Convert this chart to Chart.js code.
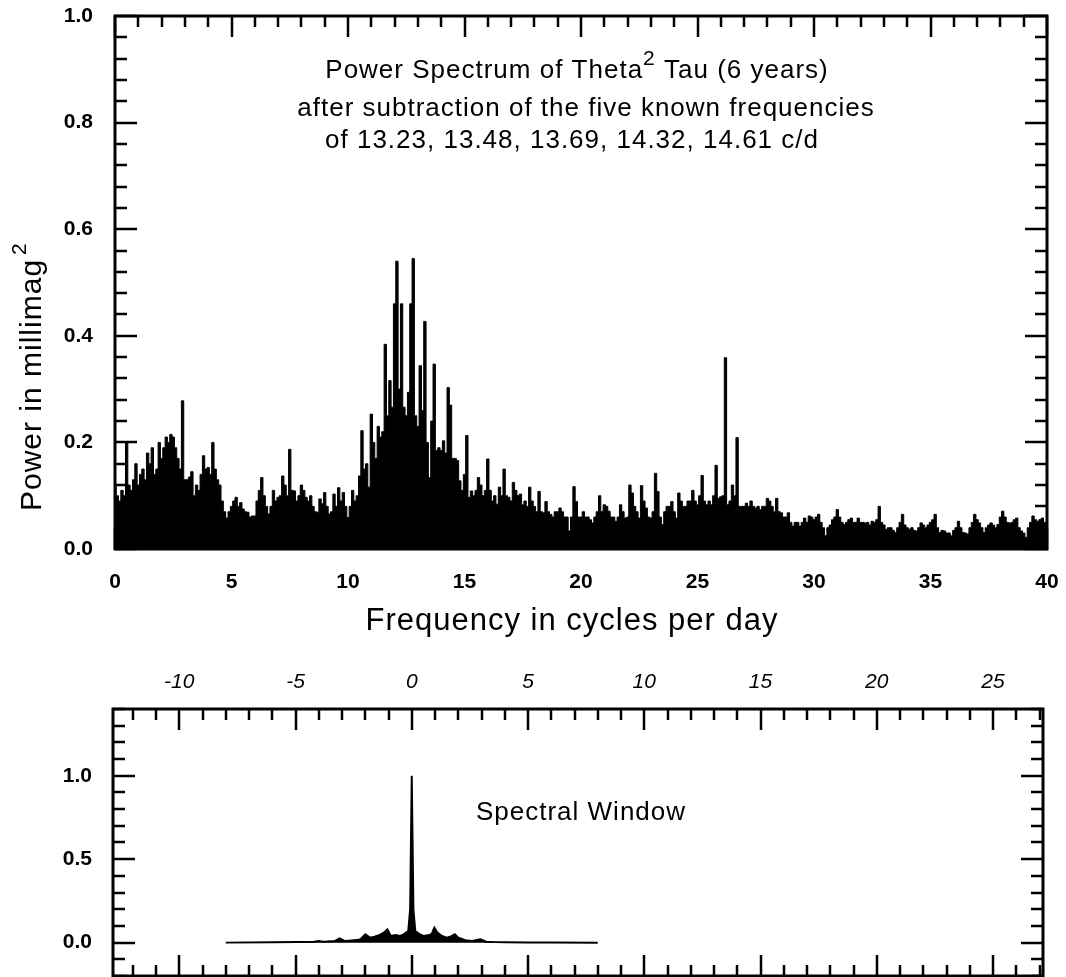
<!DOCTYPE html>
<html><head><meta charset="utf-8">
<script src="https://cdn.jsdelivr.net/npm/chart.js@4.4.1/dist/chart.umd.min.js"></script>
<style>
html,body{margin:0;padding:0;background:#fff;width:1066px;height:977px;overflow:hidden}
canvas{position:absolute;left:0}
#c1{top:0}
#c2{top:640px}
</style></head><body>
<canvas id="c1" width="1066" height="650"></canvas>
<canvas id="c2" width="1066" height="337"></canvas>
<script>
// ---------------- DATA ----------------
const spectrumStart = 0;
const spectrumStep = 0.1;
const spectrumPower = [
  0.12, 0.10, 0.09, 0.11, 0.10, 0.20, 0.12, 0.11, 0.13, 0.16,
  0.12, 0.14, 0.15, 0.13, 0.18, 0.16, 0.19, 0.14, 0.15, 0.20,
  0.17, 0.19, 0.21, 0.20, 0.215, 0.21, 0.19, 0.17, 0.15, 0.278,
  0.13, 0.13, 0.135, 0.145, 0.10, 0.12, 0.11, 0.14, 0.175, 0.15,
  0.153, 0.14, 0.20, 0.15, 0.13, 0.12, 0.09, 0.07, 0.058, 0.07,
  0.08, 0.09, 0.097, 0.08, 0.087, 0.075, 0.07, 0.069, 0.06, 0.062,
  0.062, 0.09, 0.11, 0.134, 0.10, 0.08, 0.066, 0.08, 0.11, 0.09,
  0.097, 0.10, 0.137, 0.12, 0.10, 0.187, 0.11, 0.109, 0.09, 0.10,
  0.12, 0.11, 0.097, 0.09, 0.10, 0.08, 0.07, 0.069, 0.094, 0.085,
  0.106, 0.08, 0.066, 0.07, 0.103, 0.08, 0.115, 0.09, 0.106, 0.08,
  0.059, 0.08, 0.11, 0.09, 0.10, 0.137, 0.222, 0.15, 0.16, 0.116,
  0.253, 0.20, 0.17, 0.23, 0.21, 0.22, 0.384, 0.25, 0.316, 0.266,
  0.46, 0.54, 0.30, 0.46, 0.266, 0.25, 0.294, 0.46, 0.545, 0.25,
  0.23, 0.344, 0.26, 0.427, 0.20, 0.134, 0.24, 0.347, 0.185, 0.19,
  0.185, 0.203, 0.18, 0.303, 0.27, 0.17, 0.17, 0.166, 0.128, 0.11,
  0.14, 0.213, 0.097, 0.109, 0.10, 0.11, 0.134, 0.12, 0.10, 0.11,
  0.169, 0.11, 0.09, 0.10, 0.084, 0.116, 0.10, 0.15, 0.10, 0.097,
  0.09, 0.125, 0.11, 0.10, 0.103, 0.083, 0.09, 0.08, 0.116, 0.09,
  0.08, 0.07, 0.108, 0.07, 0.068, 0.089, 0.07, 0.065, 0.06, 0.07,
  0.07, 0.077, 0.07, 0.06, 0.06, 0.034, 0.06, 0.117, 0.089, 0.06,
  0.06, 0.07, 0.06, 0.06, 0.055, 0.049, 0.06, 0.07, 0.10, 0.07,
  0.083, 0.08, 0.071, 0.06, 0.06, 0.052, 0.06, 0.083, 0.07, 0.058,
  0.06, 0.12, 0.105, 0.08, 0.07, 0.058, 0.119, 0.09, 0.077, 0.06,
  0.058, 0.07, 0.142, 0.108, 0.06, 0.046, 0.07, 0.08, 0.08, 0.089,
  0.07, 0.058, 0.105, 0.09, 0.08, 0.08, 0.09, 0.09, 0.11, 0.09,
  0.083, 0.10, 0.138, 0.09, 0.083, 0.09, 0.083, 0.10, 0.157, 0.095,
  0.098, 0.10, 0.359, 0.083, 0.09, 0.12, 0.10, 0.209, 0.08, 0.08,
  0.08, 0.086, 0.08, 0.09, 0.08, 0.077, 0.08, 0.074, 0.08, 0.08,
  0.095, 0.09, 0.08, 0.07, 0.095, 0.07, 0.068, 0.06, 0.06, 0.068,
  0.05, 0.043, 0.05, 0.05, 0.043, 0.05, 0.058, 0.05, 0.062, 0.06,
  0.055, 0.06, 0.065, 0.05, 0.04, 0.025, 0.04, 0.045, 0.055, 0.06,
  0.074, 0.06, 0.05, 0.046, 0.05, 0.055, 0.058, 0.05, 0.05, 0.058,
  0.05, 0.05, 0.049, 0.05, 0.045, 0.052, 0.05, 0.055, 0.08, 0.05,
  0.045, 0.037, 0.04, 0.04, 0.035, 0.031, 0.04, 0.05, 0.065, 0.045,
  0.04, 0.037, 0.04, 0.035, 0.034, 0.04, 0.049, 0.045, 0.04, 0.045,
  0.05, 0.055, 0.065, 0.04, 0.031, 0.035, 0.034, 0.03, 0.03, 0.025,
  0.035, 0.04, 0.052, 0.04, 0.031, 0.03, 0.028, 0.04, 0.05, 0.065,
  0.055, 0.049, 0.04, 0.031, 0.04, 0.045, 0.049, 0.045, 0.04, 0.046,
  0.06, 0.071, 0.06, 0.05, 0.049, 0.05, 0.055, 0.058, 0.04, 0.034,
  0.03, 0.022, 0.04, 0.05, 0.062, 0.055, 0.052, 0.055, 0.058, 0.05, 0.04
];

// Spectral window
const windowFreq = [-8.0, -6.0, -5.0, -4.2, -4.0, -3.8, -3.3, -3.1, -2.9, -2.7,
  -2.4, -2.2, -2.0, -1.8, -1.6, -1.4, -1.2, -1.05, -0.9, -0.7,
  -0.5, -0.35, -0.15, -0.07, 0.0, 0.07, 0.15, 0.35, 0.5, 0.7,
  0.85, 0.97, 1.1, 1.3, 1.5, 1.65, 1.85, 2.0, 2.3, 2.6,
  2.95, 3.2, 3.6, 4.0, 5.0, 6.0, 8.0];
const windowPower = [0.0, 0.002, 0.003, 0.005, 0.01, 0.005, 0.01, 0.025, 0.01, 0.012,
  0.015, 0.02, 0.05, 0.03, 0.035, 0.045, 0.06, 0.08, 0.04, 0.045,
  0.04, 0.05, 0.07, 0.2, 1.0, 0.2, 0.07, 0.05, 0.04, 0.045,
  0.05, 0.09, 0.06, 0.04, 0.03, 0.035, 0.05, 0.03, 0.015, 0.01,
  0.02, 0.005, 0.003, 0.002, 0.001, 0.001, 0.0];

// Tick labels
const topXTickValues = [0, 5, 10, 15, 20, 25, 30, 35, 40];
const topYTickValues = [0.0, 0.2, 0.4, 0.6, 0.8, 1.0];
const winXTickValues = [-10, -5, 0, 5, 10, 15, 20, 25];
const winYTickValues = [0.0, 0.5, 1.0];

// Texts
const titleLines = ["Power Spectrum of Theta", "2", " Tau (6 years)"];
const subtitle1 = "after subtraction of the five known frequencies";
const subtitle2 = "of 13.23, 13.48, 13.69, 14.32, 14.61 c/d";
const xTitle = "Frequency in cycles per day";
const yTitle = "Power in millimag";
const windowLabel = "Spectral Window";

// ---------------- HELPERS ----------------
const FONT = "'Liberation Sans', Arial, Helvetica, sans-serif";

function framePlugin(id, cfg) {
  return {
    id: id,
    afterDatasetsDraw(chart) {
      const { ctx, chartArea: a, scales: { x, y } } = chart;
      ctx.save();
      ctx.strokeStyle = '#000';
      ctx.lineWidth = 2.5;
      ctx.beginPath();
      const nx = Math.round((cfg.xTo - cfg.xFrom) / cfg.xMinor);
      for (let i = 0; i <= nx; i++) {
        const v = cfg.xFrom + i * cfg.xMinor;
        const r = v / cfg.xMajor;
        const major = Math.abs(r - Math.round(r)) < 1e-6;
        const L = major ? 21 : 11;
        const px = Math.round(x.getPixelForValue(v));
        ctx.moveTo(px, a.top); ctx.lineTo(px, a.top + L);
        ctx.moveTo(px, a.bottom); ctx.lineTo(px, a.bottom - L);
      }
      const ny = Math.round((cfg.yTo - cfg.yFrom) / cfg.yMinor);
      for (let i = 0; i <= ny; i++) {
        const v = cfg.yFrom + i * cfg.yMinor;
        const r = v / cfg.yMajor;
        const major = Math.abs(r - Math.round(r)) < 1e-6;
        const L = major ? 22 : 12;
        const py = Math.round(y.getPixelForValue(v));
        ctx.moveTo(a.left, py); ctx.lineTo(a.left + L, py);
        ctx.moveTo(a.right, py); ctx.lineTo(a.right - L, py);
      }
      ctx.stroke();
      ctx.lineWidth = 3;
      ctx.strokeRect(a.left, a.top, a.right - a.left, a.bottom - a.top);
      ctx.restore();
    }
  };
}

const topTextPlugin = {
  id: 'topText',
  afterDraw(chart) {
    const ctx = chart.ctx;
    ctx.save();
    ctx.fillStyle = '#000';
    ctx.textBaseline = 'middle';
    try { ctx.letterSpacing = '1px'; } catch (e) {}
    // annotation line 1 with superscript
    ctx.font = "26px " + FONT;
    const w1 = ctx.measureText(titleLines[0]).width;
    const w3 = ctx.measureText(titleLines[2]).width;
    ctx.font = "21px " + FONT;
    const w2 = ctx.measureText(titleLines[1]).width;
    const total = w1 + w2 + w3;
    const sx = 577 - total / 2;
    ctx.textAlign = 'left';
    ctx.font = "26px " + FONT;
    ctx.fillText(titleLines[0], sx, 71);
    ctx.font = "21px " + FONT;
    ctx.fillText(titleLines[1], sx + w1, 59);
    ctx.font = "26px " + FONT;
    ctx.fillText(titleLines[2], sx + w1 + w2, 71);
    ctx.textAlign = 'center';
    ctx.fillText(subtitle1, 586, 109);
    ctx.fillText(subtitle2, 572, 141);
    // x title
    ctx.font = "31px " + FONT;
    ctx.fillText(xTitle, 572, 621);
    // y title (rotated)
    ctx.translate(33, 511);
    ctx.rotate(-Math.PI / 2);
    ctx.textAlign = 'left';
    ctx.font = "30px " + FONT;
    ctx.fillText(yTitle, 0, 0);
    const wy = ctx.measureText(yTitle).width;
    ctx.font = "21px " + FONT;
    ctx.fillText("2", wy + 4, -13);
    ctx.restore();
  }
};

const winTextPlugin = {
  id: 'winText',
  afterDraw(chart) {
    const ctx = chart.ctx;
    ctx.save();
    ctx.fillStyle = '#000';
    ctx.textBaseline = 'middle';
    ctx.textAlign = 'center';
    try { ctx.letterSpacing = '1px'; } catch (e) {}
    ctx.font = "26px " + FONT;
    ctx.fillText(windowLabel, 581, 173);
    ctx.restore();
  }
};

// ---------------- TOP CHART ----------------
new Chart(document.getElementById('c1'), {
  type: 'line',
  data: {
    datasets: [{
      data: spectrumPower.map((p, i) => ({ x: spectrumStart + i * spectrumStep, y: p })),
      borderColor: '#000',
      backgroundColor: '#000',
      borderWidth: 1,
      pointRadius: 0,
      fill: 'origin',
      stepped: 'middle',
      tension: 0
    }]
  },
  options: {
    responsive: false,
    animation: false,
    devicePixelRatio: 1,
    layout: { padding: { top: 16, right: 19, left: 0, bottom: 0 } },
    plugins: { legend: { display: false }, tooltip: { enabled: false } },
    scales: {
      x: {
        type: 'linear', min: 0, max: 40, position: 'bottom',
        afterBuildTicks: s => { s.ticks = topXTickValues.map(v => ({ value: v })); },
        afterFit: s => { s.height = 101; s.paddingLeft = 0; s.paddingRight = 0; },
        grid: { display: false, drawTicks: false },
        border: { display: false },
        ticks: { padding: 21, color: '#000', font: { family: FONT, size: 21, weight: 'bold' }, maxRotation: 0, autoSkip: false,
                 callback: v => String(v) }
      },
      y: {
        type: 'linear', min: 0, max: 1, position: 'left',
        afterBuildTicks: s => { s.ticks = topYTickValues.map(v => ({ value: v })); },
        afterFit: s => { s.width = 115; s.paddingTop = 0; s.paddingBottom = 0; },
        grid: { display: false, drawTicks: false },
        border: { display: false },
        ticks: { padding: 22, color: '#000', font: { family: FONT, size: 21, weight: 'bold' },
                 callback: v => Number(v).toFixed(1) }
      }
    }
  },
  plugins: [framePlugin('frameTop', { xFrom: 0, xTo: 40, xMinor: 1, xMajor: 5, yFrom: 0, yTo: 1, yMinor: 0.04, yMajor: 0.2 }), topTextPlugin]
});

// ---------------- SPECTRAL WINDOW ----------------
new Chart(document.getElementById('c2'), {
  type: 'line',
  data: {
    datasets: [{
      data: windowFreq.map((f, i) => ({ x: f, y: windowPower[i] })),
      borderColor: '#000',
      backgroundColor: '#000',
      borderWidth: 2,
      pointRadius: 0,
      fill: 'origin',
      tension: 0
    }]
  },
  options: {
    responsive: false,
    animation: false,
    devicePixelRatio: 1,
    layout: { padding: { top: 0, right: 23, left: 0, bottom: 1 } },
    plugins: { legend: { display: false }, tooltip: { enabled: false } },
    scales: {
      x: {
        type: 'linear', min: -12.85, max: 27.15, position: 'top',
        afterBuildTicks: s => { s.ticks = winXTickValues.map(v => ({ value: v })); },
        afterFit: s => { s.height = 69; s.paddingLeft = 0; s.paddingRight = 0; },
        grid: { display: false, drawTicks: false },
        border: { display: false },
        ticks: { padding: 14, color: '#000', font: { family: FONT, size: 21, style: 'italic' }, maxRotation: 0, autoSkip: false,
                 callback: v => String(v) }
      },
      y: {
        type: 'linear', min: -0.2, max: 1.4, position: 'left',
        afterBuildTicks: s => { s.ticks = winYTickValues.map(v => ({ value: v })); },
        afterFit: s => { s.width = 113; s.paddingTop = 0; s.paddingBottom = 0; },
        grid: { display: false, drawTicks: false },
        border: { display: false },
        ticks: { padding: 21, color: '#000', font: { family: FONT, size: 21, weight: 'bold' },
                 callback: v => Number(v).toFixed(1) }
      }
    }
  },
  plugins: [framePlugin('frameWin', { xFrom: -12, xTo: 27, xMinor: 1, xMajor: 5, yFrom: -0.2, yTo: 1.4, yMinor: 0.1, yMajor: 0.5 }), winTextPlugin]
});
</script>
</body></html>
